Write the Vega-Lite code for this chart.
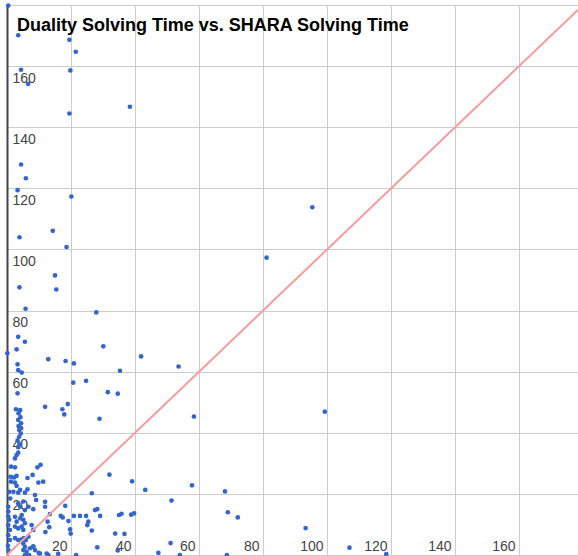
{
  "$schema": "https://vega.github.io/schema/vega-lite/v6.json",
  "width": 571,
  "height": 550,
  "autosize": {"type": "none"},
  "padding": {"left": 7, "top": 5, "right": 0, "bottom": 1},
  "background": "#ffffff",
  "config": {"view": {"stroke": null}, "font": "Liberation Sans"},
  "title": {
    "text": "Duality Solving Time vs. SHARA Solving Time",
    "anchor": "start",
    "frame": "group",
    "font": "Liberation Sans",
    "fontSize": 18,
    "fontWeight": "bold",
    "color": "#000000",
    "baseline": "alphabetic",
    "offset": -24,
    "dy": 22,
    "dx": 10
  },
  "datasets": {
    "diag": [{"sx": 0, "dy": 0, "sx2": 180, "dy2": 180}],
    "pts": [
      {"shara": 0.4, "duality": 179.8}, {"shara": 3.5, "duality": 170.1}, {"shara": 19.5, "duality": 168.6}, {"shara": 21.5, "duality": 164.7},
      {"shara": 4.4, "duality": 158.8}, {"shara": 19.8, "duality": 158.6}, {"shara": 6.6, "duality": 154.2}, {"shara": 19.5, "duality": 144.5},
      {"shara": 38.4, "duality": 146.7}, {"shara": 4.4, "duality": 127.8}, {"shara": 5.9, "duality": 123.3}, {"shara": 3.3, "duality": 119.4},
      {"shara": 20.1, "duality": 117.3}, {"shara": 14.3, "duality": 106.1}, {"shara": 3.9, "duality": 104}, {"shara": 18.6, "duality": 100.8},
      {"shara": 15, "duality": 91.5}, {"shara": 3.9, "duality": 87.6}, {"shara": 15.4, "duality": 86.9}, {"shara": 5.8, "duality": 80.6},
      {"shara": 27.9, "duality": 79.4}, {"shara": 81.1, "duality": 97.3}, {"shara": 95.4, "duality": 113.8}, {"shara": 3.5, "duality": 71.4},
      {"shara": 5.6, "duality": 69.8}, {"shara": 3.0, "duality": 67.3}, {"shara": 0.1, "duality": 66}, {"shara": 12.9, "duality": 64.1},
      {"shara": 18.3, "duality": 63.5}, {"shara": 20.9, "duality": 62.7}, {"shara": 3.3, "duality": 62.4}, {"shara": 3.5, "duality": 60.5},
      {"shara": 4.6, "duality": 59.7}, {"shara": 20.7, "duality": 56.4}, {"shara": 24.7, "duality": 57}, {"shara": 3.3, "duality": 52.9},
      {"shara": 30.1, "duality": 68.3}, {"shara": 41.9, "duality": 65}, {"shara": 53.6, "duality": 61.7}, {"shara": 35.3, "duality": 60.3},
      {"shara": 31.5, "duality": 53.3}, {"shara": 34.6, "duality": 52.8}, {"shara": 11.9, "duality": 48.5}, {"shara": 17.3, "duality": 47.7},
      {"shara": 19, "duality": 49.4}, {"shara": 17.9, "duality": 46}, {"shara": 28.9, "duality": 44.6}, {"shara": 58.4, "duality": 45.3},
      {"shara": 99.3, "duality": 46.9},
      {"shara": 2.8, "duality": 47.7}, {"shara": 4.1, "duality": 47.4}, {"shara": 3.6, "duality": 46.4}, {"shara": 4.2, "duality": 45.1},
      {"shara": 3.5, "duality": 44.2}, {"shara": 4.4, "duality": 43.1}, {"shara": 3.6, "duality": 42.2}, {"shara": 4.4, "duality": 41.5},
      {"shara": 3.8, "duality": 40.9}, {"shara": 4.3, "duality": 39.8}, {"shara": 3.8, "duality": 38.7}, {"shara": 3.3, "duality": 37.5},
      {"shara": 4.1, "duality": 36.3}, {"shara": 3.5, "duality": 35.3},
      {"shara": 3.5, "duality": 33.5}, {"shara": 3.0, "duality": 32.7}, {"shara": 2.5, "duality": 31.6}, {"shara": 1.25, "duality": 28.9},
      {"shara": 2.5, "duality": 28.7}, {"shara": 1.1, "duality": 25.6}, {"shara": 2.2, "duality": 25.4}, {"shara": 3, "duality": 25.9},
      {"shara": 1.25, "duality": 24}, {"shara": 2.5, "duality": 23.7}, {"shara": 3, "duality": 22.6}, {"shara": 0.7, "duality": 20.7},
      {"shara": 2, "duality": 20.7}, {"shara": 3.5, "duality": 20.4}, {"shara": 4.1, "duality": 21.3}, {"shara": 5.6, "duality": 20.4},
      {"shara": 6.4, "duality": 21.5}, {"shara": 6.4, "duality": 25.2}, {"shara": 8, "duality": 26.2}, {"shara": 9.5, "duality": 28.7},
      {"shara": 10.5, "duality": 29.5}, {"shara": 9.8, "duality": 23.7}, {"shara": 11.3, "duality": 24}, {"shara": 8.75, "duality": 19.6},
      {"shara": 8.2, "duality": 15}, {"shara": 9.1, "duality": 18}, {"shara": 11.9, "duality": 17.4}, {"shara": 11.9, "duality": 15.8},
      {"shara": 13.4, "duality": 13.4}, {"shara": 12.7, "duality": 10.9}, {"shara": 16.8, "duality": 12.8}, {"shara": 17.4, "duality": 12.3},
      {"shara": 26.5, "duality": 20.2}, {"shara": 19.2, "duality": 11.1}, {"shara": 20.9, "duality": 12.8}, {"shara": 22.8, "duality": 12.8},
      {"shara": 24.7, "duality": 12.8}, {"shara": 25.4, "duality": 10.9}, {"shara": 25.1, "duality": 9.8}, {"shara": 26.5, "duality": 8},
      {"shara": 27.5, "duality": 14.7}, {"shara": 28.2, "duality": 15}, {"shara": 29.1, "duality": 12.8}, {"shara": 28.2, "duality": 2.5},
      {"shara": 19.7, "duality": 8.4}, {"shara": 13.2, "duality": 9.1}, {"shara": 18.2, "duality": 16.1}, {"shara": 12, "duality": 7.5},
      {"shara": 19.9, "duality": 7}, {"shara": 21.6, "duality": 0}, {"shara": 16, "duality": 0.4}, {"shara": 12.9, "duality": 0},
      {"shara": 9.9, "duality": 0.7}, {"shara": 8.2, "duality": 2.8},
      {"shara": 0.4, "duality": 15.8}, {"shara": 0.4, "duality": 14.2}, {"shara": 0.4, "duality": 12.6}, {"shara": 0.7, "duality": 11.5},
      {"shara": 0.4, "duality": 9.8}, {"shara": 0.9, "duality": 8.2}, {"shara": 0.4, "duality": 6.5}, {"shara": 0.9, "duality": 4.9},
      {"shara": 0.3, "duality": 3}, {"shara": 0.5, "duality": 1.5},
      {"shara": 2.5, "duality": 12.5}, {"shara": 3, "duality": 10.9}, {"shara": 4.1, "duality": 12}, {"shara": 4.6, "duality": 13.1},
      {"shara": 5.1, "duality": 11.5}, {"shara": 5.6, "duality": 10.4}, {"shara": 2.5, "duality": 9.3}, {"shara": 3.5, "duality": 8.7},
      {"shara": 4.6, "duality": 9.3}, {"shara": 5.1, "duality": 8.2}, {"shara": 2.5, "duality": 5.5}, {"shara": 3.5, "duality": 4.9},
      {"shara": 4.6, "duality": 5.1}, {"shara": 5.3, "duality": 5.5}, {"shara": 5.9, "duality": 4.9}, {"shara": 5.1, "duality": 3.8},
      {"shara": 5.6, "duality": 2.7}, {"shara": 6.1, "duality": 1.1}, {"shara": 5.1, "duality": 1.6}, {"shara": 7.2, "duality": 2.2},
      {"shara": 8.2, "duality": 2.7}, {"shara": 8.75, "duality": 1.6}, {"shara": 10.3, "duality": 0.5}, {"shara": 12.4, "duality": 0.5},
      {"shara": 6.9, "duality": 0}, {"shara": 5.6, "duality": 0}, {"shara": 6.7, "duality": 6}, {"shara": 8.2, "duality": 8.2},
      {"shara": 7.7, "duality": 9.8}, {"shara": 1, "duality": 18.5}, {"shara": 3.5, "duality": 16.9}, {"shara": 5.1, "duality": 17.5},
      {"shara": 4.1, "duality": 15.8}, {"shara": 5.6, "duality": 14.7}, {"shara": 6.7, "duality": 15.8},
      {"shara": 32, "duality": 26.3}, {"shara": 39.1, "duality": 24.1}, {"shara": 43.2, "duality": 21.3}, {"shara": 57.8, "duality": 22.8},
      {"shara": 68.1, "duality": 20.8}, {"shara": 51.4, "duality": 17.8}, {"shara": 69, "duality": 14}, {"shara": 72.1, "duality": 12.3},
      {"shara": 35, "duality": 13.1}, {"shara": 35.8, "duality": 13.5}, {"shara": 38.8, "duality": 13.2}, {"shara": 39.7, "duality": 13.6},
      {"shara": 33.8, "duality": 7}, {"shara": 36.7, "duality": 6.9}, {"shara": 34.6, "duality": 1.5}, {"shara": 47.3, "duality": 0.7},
      {"shara": 51.1, "duality": 3.9}, {"shara": 54, "duality": 0}, {"shara": 68.7, "duality": 0}, {"shara": 93.3, "duality": 8.8},
      {"shara": 107, "duality": 2.4}, {"shara": 118.5, "duality": 0.3}
    ]
  },
  "layer": [
    {
      "data": {"name": "pts"},
      "mark": {"type": "point", "filled": true, "color": "#3366cc", "size": 22, "opacity": 1, "strokeWidth": 0},
      "encoding": {
        "x": {
          "field": "shara", "type": "quantitative",
          "scale": {"domain": [0, 178.4], "nice": false, "zero": false},
          "axis": {
            "title": null, "values": [0, 20, 40, 60, 80, 100, 120, 140, 160],
            "grid": true, "gridColor": "#cccccc", "gridWidth": 1, "ticks": false,
            "domainColor": "#cccccc", "domainWidth": 1,
            "labelAlign": "right", "labelBaseline": "alphabetic", "labelPadding": -5, "labelOffset": -4,
            "labelExpr": "datum.value == 0 ? '' : datum.label",
            "labelFont": "Liberation Sans", "labelFontSize": 14, "labelColor": "#444444", "labelFlush": false, "labelOverlap": false
          }
        },
        "y": {
          "field": "duality", "type": "quantitative",
          "scale": {"domain": [0, 180], "nice": false, "zero": false},
          "axis": {
            "title": null, "values": [0, 20, 40, 60, 80, 100, 120, 140, 160, 180],
            "grid": true, "gridColor": "#cccccc", "gridWidth": 1, "ticks": false,
            "domainColor": "#444444", "domainWidth": 2,
            "labelAlign": "left", "labelBaseline": "top", "labelPadding": -5, "labelOffset": 5,
            "labelExpr": "datum.value == 0 || datum.value == 180 ? '' : datum.label",
            "labelFont": "Liberation Sans", "labelFontSize": 14, "labelColor": "#444444", "labelFlush": false, "labelOverlap": false
          }
        }
      }
    },
    {
      "data": {"name": "diag"},
      "mark": {"type": "rule", "color": "#f59c9c", "strokeWidth": 2, "clip": true},
      "encoding": {
        "x": {"field": "sx", "type": "quantitative"},
        "y": {"field": "dy", "type": "quantitative"},
        "x2": {"field": "sx2"},
        "y2": {"field": "dy2"}
      }
    }
  ]
}
